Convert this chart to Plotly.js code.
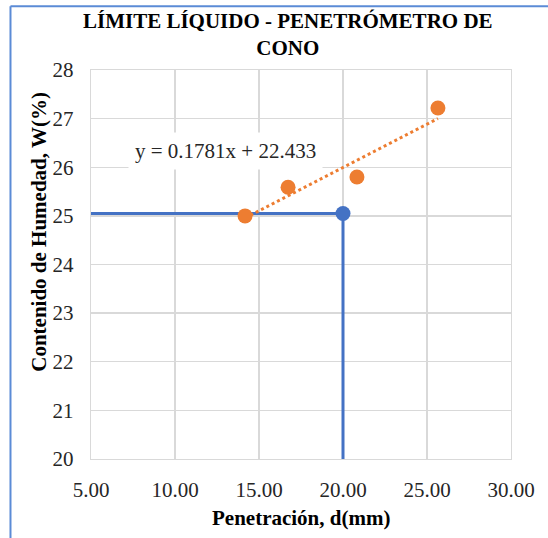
<!DOCTYPE html>
<html>
<head>
<meta charset="utf-8">
<script src="https://cdn.plot.ly/plotly-3.0.1.min.js"></script>
<style>html,body{margin:0;padding:0;background:#fff;}#chart{width:548px;height:538px;}</style>
</head>
<body>
<div id="chart"></div>
<script>
// Data
const penetracion = [14.17, 16.73, 20.83, 25.65];   // d (mm)
const humedad = [25.00, 25.59, 25.80, 27.22];       // W (%)
const trendSlope = 0.1781;
const trendIntercept = 22.433;
const llPenetracion = 20.0;   // reference penetration
const llHumedad = 25.05;      // moisture read at reference penetration
const xMin = 5, xMax = 30, yMin = 20, yMax = 28;
const xTickVals = [5, 10, 15, 20, 25, 30];
const yTickVals = [20, 21, 22, 23, 24, 25, 26, 27, 28];

const serif = 'Liberation Serif';
const orange = '#ED7D31';
const blue = '#4472C4';

const tx = [Math.min(...penetracion), Math.max(...penetracion)];
const ty = tx.map(v => trendSlope * v + trendIntercept);

const traces = [
  {x: [xMin, llPenetracion, llPenetracion], y: [llHumedad, llHumedad, yMin], mode: 'lines',
   line: {color: blue, width: 3}, hoverinfo: 'skip'},
  {x: tx, y: ty, mode: 'lines', line: {color: orange, width: 3, dash: 'dot'}},
  {x: penetracion, y: humedad, mode: 'markers', marker: {color: orange, size: 15}},
  {x: [llPenetracion], y: [llHumedad], mode: 'markers', marker: {color: blue, size: 15}}
];

const eqText = 'y = ' + trendSlope + 'x + ' + trendIntercept;

const layout = {
  width: 548, height: 538,
  margin: {l: 91, r: 37, t: 70, b: 79},
  paper_bgcolor: '#fff', plot_bgcolor: '#fff',
  showlegend: false,
  font: {family: serif, color: '#000', size: 21},
  xaxis: {range: [xMin, xMax], tickvals: xTickVals, tickformat: '.2f', showgrid: true, gridcolor: '#d9d9d9', gridwidth: 1.3,
          zeroline: false, showline: true, mirror: true, linecolor: '#d9d9d9', linewidth: 1.3,
          ticks: '', ticklabelstandoff: 11, tickfont: {family: serif, size: 21, color: '#262626'}},
  yaxis: {range: [yMin, yMax], tickvals: yTickVals, showgrid: true, gridcolor: '#d9d9d9', gridwidth: 1.3,
          zeroline: false, showline: true, mirror: true, linecolor: '#d9d9d9', linewidth: 1.3,
          ticks: '', ticklabelstandoff: 12, tickfont: {family: serif, size: 21, color: '#262626'}},
  annotations: [
    {text: '<b>LÍMITE LÍQUIDO - PENETRÓMETRO DE<br>CONO</b>', xref: 'paper', yref: 'paper', x: 0.4693, y: 1.091,
     showarrow: false, xanchor: 'center', yanchor: 'middle', font: {family: serif, size: 21, color: '#000'}},
    {text: eqText, xref: 'x', yref: 'y', x: 12.98, y: 26.33, showarrow: false, xanchor: 'center', yanchor: 'middle',
     font: {family: serif, size: 21, color: '#262626'}, bgcolor: '#fff', borderpad: 6},
    {text: '<b>Penetración, d(mm)</b>', xref: 'paper', yref: 'paper', x: 0.5, y: -0.152, showarrow: false,
     xanchor: 'center', yanchor: 'middle', font: {family: serif, size: 21, color: '#000'}},
    {text: '<b>Contenido de Humedad, W(%)</b>', xref: 'paper', yref: 'paper', x: -0.124, y: 0.584, showarrow: false,
     textangle: -90, xanchor: 'center', yanchor: 'middle', font: {family: serif, size: 21, color: '#000'}}
  ],
  shapes: [
    {type: 'line', xref: 'paper', yref: 'paper', x0: -0.1917, x1: 1.1, y0: 1.164, y1: 1.164, line: {color: '#5B8BD6', width: 2}},
    {type: 'line', xref: 'paper', yref: 'paper', x0: -0.1917, x1: -0.1917, y0: 1.164, y1: -0.21, line: {color: '#5B8BD6', width: 2}}
  ]
};

Plotly.newPlot('chart', traces, layout, {displayModeBar: false, staticPlot: true});
</script>
</body>
</html>
